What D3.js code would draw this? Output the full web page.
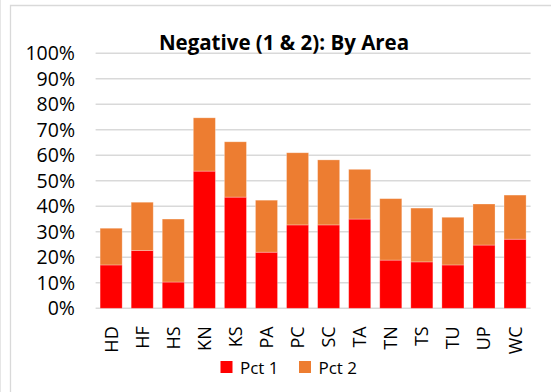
<!DOCTYPE html>
<html>
<head>
<meta charset="utf-8">
<script src="https://cdn.jsdelivr.net/npm/d3@7/dist/d3.min.js"></script>
<style>
  html, body { margin: 0; padding: 0; background: #fff; }
  svg { display: block; }
  text { font-family: "Open Sans", Lato, sans-serif; fill: #000; }
</style>
</head>
<body>
<svg id="chart" width="551" height="392"></svg>
<script>
const categories = ["HD","HF","HS","KN","KS","PA","PC","SC","TA","TN","TS","TU","UP","WC"];
const pct1 = [0.170,0.227,0.103,0.538,0.436,0.220,0.327,0.327,0.350,0.189,0.182,0.170,0.248,0.271];
const pct2 = [0.144,0.189,0.247,0.209,0.217,0.204,0.283,0.255,0.195,0.241,0.211,0.187,0.161,0.173];
const seriesNames = ["Pct 1","Pct 2"];
const seriesColors = ["#ff0000","#ed7d31"];
const yTicks = [0,0.1,0.2,0.3,0.4,0.5,0.6,0.7,0.8,0.9,1.0];
const title = "Negative (1 & 2): By Area";

const svg = d3.select("#chart");
const W = 551, H = 392;
const plot = {left: 95.6, right: 530.6, top: 53.3, bottom: 308.3};
const FONT = "'Open Sans', Lato, sans-serif";

// chart frame
svg.append("line").attr("x1",0.5).attr("x2",0.5).attr("y1",0).attr("y2",H)
  .attr("stroke","#e6e6e6").attr("stroke-width",1);
svg.append("path").attr("d",`M10.5,${H}V5.5H${W}`)
  .attr("fill","none").attr("stroke","#d9d9d9").attr("stroke-width",1.3);

const x = d3.scaleBand().domain(categories).range([plot.left, plot.right])
  .paddingInner(0.29).paddingOuter(0.145);
const y = d3.scaleLinear().domain([0,1]).range([plot.bottom, plot.top]);

// gridlines
svg.append("g").selectAll("line").data(yTicks).join("line")
  .attr("x1", plot.left).attr("x2", plot.right)
  .attr("y1", d => y(d)).attr("y2", d => y(d))
  .attr("stroke", "#d9d9d9").attr("stroke-width", 1.6);

// y axis labels
const yAxis = d3.axisLeft(y).tickValues(yTicks).tickFormat(d3.format(".0%")).tickSize(0).tickPadding(0);
const yg = svg.append("g").attr("transform", `translate(75,0)`).call(yAxis);
yg.select(".domain").remove();
yg.selectAll("text").attr("font-size", 19.5).attr("font-family", FONT).attr("fill","#000");

// stacked data
const rows = categories.map((c,i) => ({cat: c, "Pct 1": pct1[i], "Pct 2": pct2[i]}));
const stack = d3.stack().keys(seriesNames)(rows);

svg.append("g").selectAll("g").data(stack).join("g")
  .attr("fill", (d,i) => seriesColors[i])
  .selectAll("rect").data(d => d).join("rect")
  .attr("x", d => x(d.data.cat))
  .attr("width", x.bandwidth())
  .attr("y", d => y(d[1]))
  .attr("height", d => y(d[0]) - y(d[1]))
  .attr("stroke", "rgba(255,255,255,0.35)").attr("stroke-width", 0.8);

// x axis labels (rotated)
const xAxis = d3.axisBottom(x).tickSize(0).tickPadding(0);
const xg = svg.append("g").attr("transform", `translate(0,${plot.bottom})`).call(xAxis);
xg.select(".domain").remove();
xg.selectAll("text")
  .attr("font-size", 18).attr("font-family", FONT).attr("fill","#000")
  .attr("text-anchor", "end")
  .attr("transform", "rotate(-90)")
  .attr("x", -18).attr("y", 0).attr("dy", "0.36em");

// title
svg.append("text").attr("x", 284).attr("y", 50).attr("text-anchor","middle")
  .attr("font-size", 20.5).attr("font-weight", "bold").attr("font-family", FONT).text(title);

// legend
const legend = svg.append("g");
const legX = [220.5, 299];
seriesNames.forEach((name, i) => {
  legend.append("rect").attr("x", legX[i]).attr("y", 361).attr("width", 12).attr("height", 12)
    .attr("fill", seriesColors[i]);
  legend.append("text").attr("x", legX[i] + 19.5).attr("y", 373.5)
    .attr("font-size", 17).attr("font-family", FONT).text(name);
});
</script>
</body>
</html>
